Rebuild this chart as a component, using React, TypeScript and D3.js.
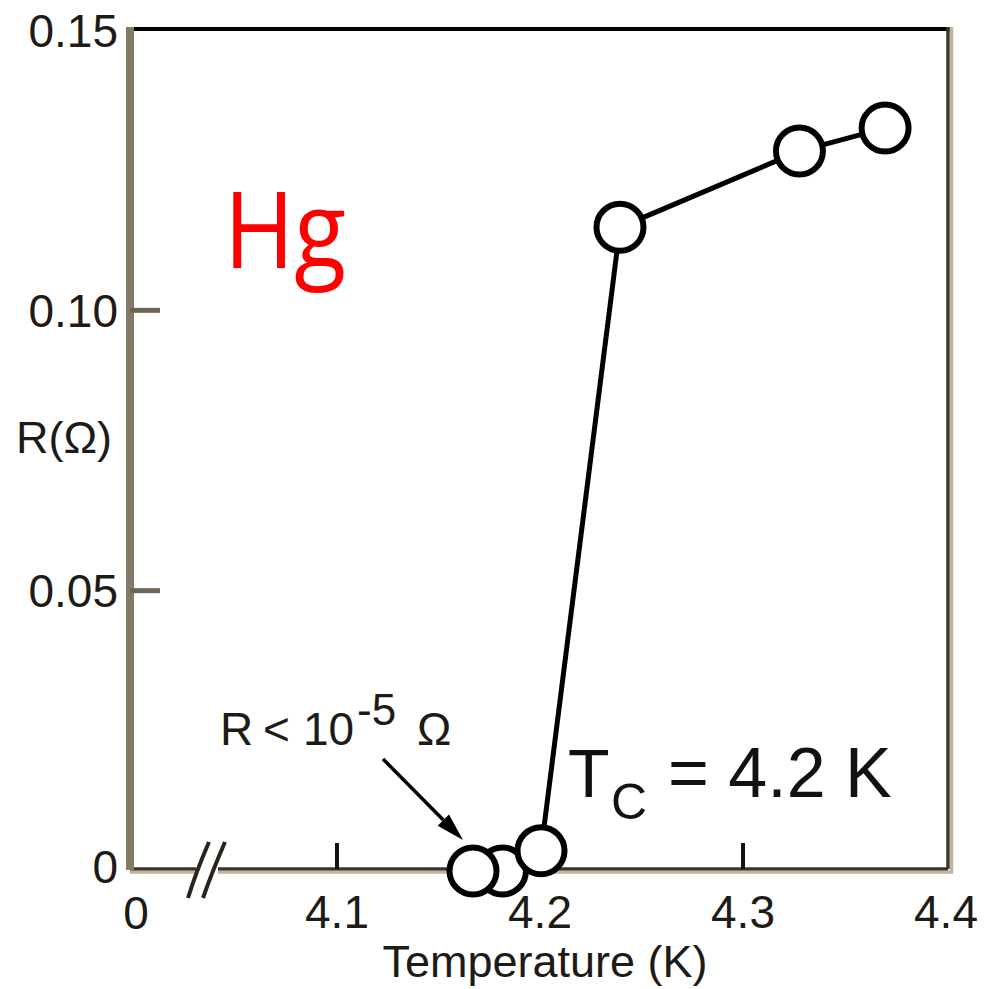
import React from "react";
import * as d3 from "d3";

// ---- data ----
const temperatures = [4.167, 4.1815, 4.2005, 4.2394, 4.3278, 4.37];
const resistances = [0, 0, 0.0036, 0.1148, 0.1284, 0.1325];
const drawOrder = [1, 0, 2, 3, 4, 5];
const yTicks = [0, 0.05, 0.1, 0.15];
const yTickLabels = ["0", "0.05", "0.10", "0.15"];
const xTicks = [4.1, 4.2, 4.3, 4.4];
const xTickLabels = ["4.1", "4.2", "4.3", "4.4"];

const W = 986;
const H = 989;
const FONT = "'Liberation Sans', Arial, Helvetica, sans-serif";

export default function App() {
  const x = d3.scaleLinear().domain([4.1, 4.4]).range([337, 946]);
  const y = d3.scaleLinear().domain([0, 0.15]).range([871, 30]);

  const left = 130;
  const right = 948;
  const top = 29;
  const bottom = 869;

  const pts = temperatures.map((t, i) => [x(t), y(resistances[i])] as [number, number]);
  const line = d3.line()(pts) || "";

  // arrow geometry
  const a0 = [383, 759];
  const a1 = [463, 840];
  const ang = Math.atan2(a1[1] - a0[1], a1[0] - a0[0]);
  const hl = 28, hw = 8;
  const bx = a1[0] - hl * Math.cos(ang), by = a1[1] - hl * Math.sin(ang);
  const head = `M${a1[0]},${a1[1]} L${bx + hw * Math.sin(ang)},${by - hw * Math.cos(ang)} L${bx - hw * Math.sin(ang)},${by + hw * Math.cos(ang)} Z`;

  return (
    <svg width={W} height={H} style={{ position: "absolute", left: 0, top: 0, background: "#fff" }} fontFamily={FONT}>
      <rect x={0} y={0} width={W} height={H} fill="#fff" />

      {/* frame */}
      <line x1={left} x2={right + 2} y1={top} y2={top} stroke="#000" strokeWidth={4} />
      <line x1={right} x2={right} y1={top - 2} y2={bottom} stroke="#3b342b" strokeWidth={3.5} />
      <line x1={right + 3.5} x2={right + 3.5} y1={top - 2} y2={bottom + 4} stroke="#c2b39c" strokeWidth={3.5} />
      <line x1={left} x2={right} y1={bottom} y2={bottom} stroke="#3b342b" strokeWidth={3.5} />
      <line x1={left} x2={right + 5} y1={bottom + 3.2} y2={bottom + 3.2} stroke="#c2b39c" strokeWidth={3} />
      <line x1={left} x2={left} y1={top - 2} y2={bottom + 1} stroke="#857a68" strokeWidth={8} />

      {/* axis break */}
      <rect x={196} y={862} width={22} height={14} fill="#fff" />
      <path d="M188,898 Q196,872 209,842" fill="none" stroke="#2a241d" strokeWidth={4} />
      <path d="M203,898 Q212,872 225,842" fill="none" stroke="#2a241d" strokeWidth={4} />

      {/* y ticks */}
      {yTicks.slice(1, 3).map((v) => (
        <line key={v} x1={left} x2={left + 30} y1={y(v)} y2={y(v)} stroke="#6e6454" strokeWidth={5} />
      ))}
      {yTicks.map((v, i) => (
        <text key={v} x={118} y={i === 0 ? 866 : i === 3 ? 30 : y(v)} dy="0.36em" textAnchor="end" fontSize={46} fill="#1e1a16">
          {yTickLabels[i]}
        </text>
      ))}
      <text x={16} y={453} fontSize={45} fill="#1e1a16">R(Ω)</text>

      {/* x ticks */}
      {xTicks.slice(0, 3).map((v) => (
        <line key={v} x1={x(v)} x2={x(v)} y1={bottom} y2={bottom - 26} stroke="#111" strokeWidth={4} />
      ))}
      {xTicks.map((v, i) => (
        <text key={v} x={x(v)} y={928} textAnchor="middle" fontSize={46} fill="#1e1a16">
          {xTickLabels[i]}
        </text>
      ))}
      <text x={136} y={929} textAnchor="middle" fontSize={46} fill="#1e1a16">0</text>
      <text x={545} y={977} textAnchor="middle" fontSize={45} fill="#1e1a16">Temperature (K)</text>

      {/* data */}
      <path d={line} fill="none" stroke="#000" strokeWidth={5} />
      {drawOrder.map((i) => (
        <circle key={i} cx={pts[i][0]} cy={pts[i][1]} r={23.5} fill="#fff" stroke="#000" strokeWidth={6} />
      ))}

      {/* annotations */}
      <text x={0} y={0} fontSize={106} fill="#ff0000" fontFamily="'Open Sans', 'Noto Sans', sans-serif"
        transform="translate(224,268) scale(0.9,1)">Hg</text>

      <text x={220} y={745} fontSize={46} fill="#1e1a16">R</text>
      <text x={263} y={745} fontSize={46} fill="#1e1a16">&lt;</text>
      <text x={303} y={745} fontSize={46} fill="#1e1a16">10</text>
      <text x={357} y={725} fontSize={44} fill="#1e1a16">-5</text>
      <text x={417} y={745} fontSize={46} fill="#1e1a16">Ω</text>
      <line x1={a0[0]} y1={a0[1]} x2={bx} y2={by} stroke="#000" strokeWidth={3.5} />
      <path d={head} fill="#000" />

      <text x={568} y={797} fontSize={68} fill="#111">T</text>
      <text x={611} y={819} fontSize={50} fill="#111">C</text>
      <text x={668} y={797} fontSize={70} fill="#111">= 4.2 K</text>
    </svg>
  );
}
